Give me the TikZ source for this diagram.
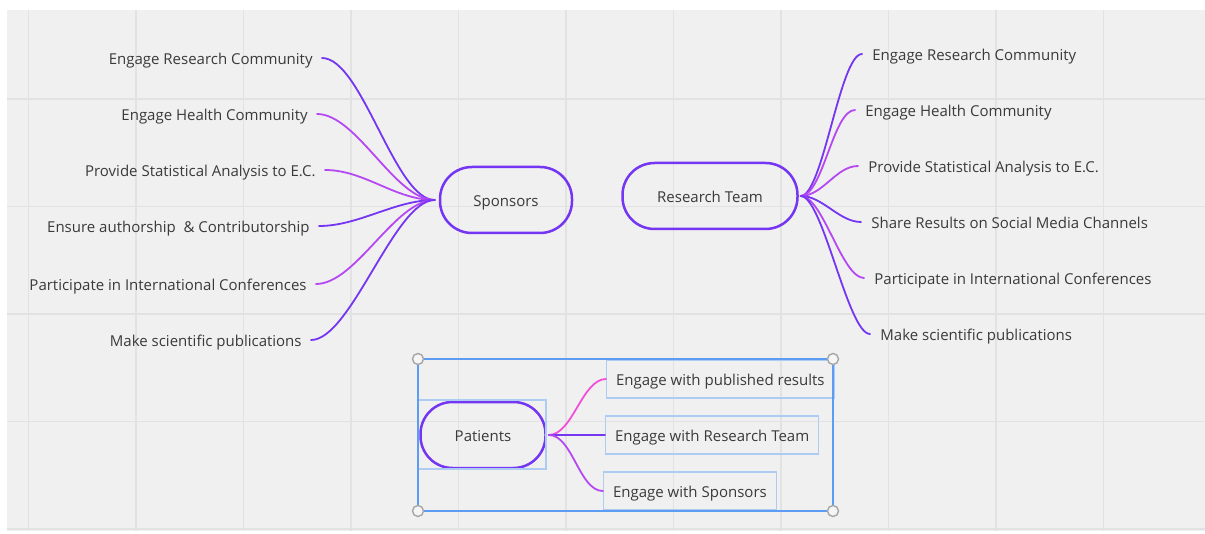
\documentclass[tikz,border=0pt]{standalone}
\usepackage{fontspec}
\setmainfont{Open Sans}
\definecolor{canvas}{HTML}{F0F0F0}
\definecolor{gridline}{HTML}{E2E2E2}
\definecolor{violet}{HTML}{7436F2}
\definecolor{orchid}{HTML}{B548F2}
\definecolor{pinkish}{HTML}{F24FD8}
\definecolor{selblue}{HTML}{5C9CF2}
\definecolor{paleblue}{HTML}{AECBF2}
\definecolor{inktext}{HTML}{3A3A3A}
\tikzset{
  hub/.style={rectangle, draw=violet, line width=1.25pt, rounded corners=16pt,
    minimum height=33pt, text=inktext, text height=7.2pt, text depth=0.6pt,
    font=\fontsize{7.5}{9}\selectfont},
  leftleaf/.style={anchor=east, inner xsep=4.5pt, inner ysep=0pt, text=inktext,
    text height=7.5pt, text depth=1.1pt, font=\fontsize{7.5}{9}\selectfont},
  rightleaf/.style={anchor=west, inner xsep=5pt, inner ysep=0pt, text=inktext,
    text height=7.5pt, text depth=1.1pt, font=\fontsize{7.5}{9}\selectfont},
  boxleaf/.style={anchor=west, draw=paleblue, line width=0.6pt, inner xsep=4.75pt,
    minimum height=19pt, text=inktext, text height=7.5pt, text depth=1.1pt,
    font=\fontsize{7.5}{9}\selectfont},
  branch/.style={line width=0.9pt, line cap=round},
  handle/.style={circle, draw=black!35, fill=white!96!black, line width=0.7pt,
    inner sep=0pt, minimum size=5.5pt},
}
\begin{document}
\begin{tikzpicture}[x=0.5pt,y=-0.5pt]

        % canvas and grid
        \useasboundingbox (0,0) rectangle (1205,534);
        \fill[white] (0,0) rectangle (1205,534);
        \fill[canvas] (7,10) rectangle (1205,531);
        \foreach \gx in {28.5,136,...,1110}
          \draw[gridline, line width=0.75pt] (\gx,10) -- (\gx,531);
        \foreach \gy in {99,206.5,314,421.5,529}
          \draw[gridline, line width=0.75pt] (7,\gy) -- (1205,\gy);

        % hubs
        \node[hub, minimum width=66pt]   (sp) at (506,200) {Sponsors};
        \node[hub, minimum width=87.5pt] (rt) at (710,196) {Research Team};
        \node[hub, minimum width=62.5pt] (pt) at (483,435) {Patients};

        % sponsors leaves
        \node[leftleaf] (s1) at (322,58)  {Engage Research Community};
        \node[leftleaf] (s2) at (317,114) {Engage Health Community};
        \node[leftleaf] (s3) at (325,170) {Provide Statistical Analysis to E.C.};
        \node[leftleaf] (s4) at (319,226) {Ensure authorship\ \ \& Contributorship};
        \node[leftleaf] (s5) at (316,284) {Participate in International Conferences};
        \node[leftleaf] (s6) at (311,340) {Make scientific publications};

        \begin{scope}[branch, every path/.append style={out=0, in=180, distance=20pt}]
          \draw[violet] (s1.east) to ([xshift=-2pt]sp.west);
          \draw[orchid] (s2.east) to ([xshift=-2pt]sp.west);
          \draw[orchid] (s3.east) to ([xshift=-2pt]sp.west);
          \draw[violet] (s4.east) to ([xshift=-2pt]sp.west);
          \draw[orchid] (s5.east) to ([xshift=-2pt]sp.west);
          \draw[violet] (s6.east) to ([xshift=-2pt]sp.west);
        \end{scope}

        % research team leaves
        \node[rightleaf] (r1) at (862,54)  {Engage Research Community};
        \node[rightleaf] (r2) at (855,110) {Engage Health Community};
        \node[rightleaf] (r3) at (858,166) {Provide Statistical Analysis to E.C.};
        \node[rightleaf] (r4) at (861,222) {Share Results on Social Media Channels};
        \node[rightleaf] (r5) at (864,278) {Participate in International Conferences};
        \node[rightleaf] (r6) at (870,334) {Make scientific publications};

        \begin{scope}[branch, every path/.append style={out=0, in=180, distance=11pt}]
          \draw[violet] ([xshift=1pt]rt.east) to (r1.west);
          \draw[orchid] ([xshift=1pt]rt.east) to (r2.west);
          \draw[orchid] ([xshift=1pt]rt.east) to (r3.west);
          \draw[violet] ([xshift=1pt]rt.east) to (r4.west);
          \draw[orchid] ([xshift=1pt]rt.east) to (r5.west);
          \draw[violet] ([xshift=1pt]rt.east) to (r6.west);
        \end{scope}

        % patients group
        \draw[paleblue, line width=0.6pt] (418,400) rectangle (546,469);
        \node[boxleaf] (p1) at (606,379) {Engage with published results};
        \node[boxleaf] (p2) at (605,435) {Engage with Research Team};
        \node[boxleaf] (p3) at (603,491) {Engage with Sponsors};

        \begin{scope}[branch, every path/.append style={out=0, in=180, distance=12pt}]
          \draw[pinkish] ([xshift=1pt]pt.east) to (p1.west);
          \draw[violet]  ([xshift=1pt]pt.east) to (p2.west);
          \draw[orchid]  ([xshift=1pt]pt.east) to (p3.west);
        \end{scope}

        % selection frame
        \draw[selblue, line width=0.7pt] (418,359) rectangle (833,511);
        \node[handle] (h1) at (418,359) {};
        \node[handle] (h2) at (833,359) {};
        \node[handle] (h3) at (418,511) {};
        \node[handle] (h4) at (833,511) {};

      \end{tikzpicture}
\end{document}
